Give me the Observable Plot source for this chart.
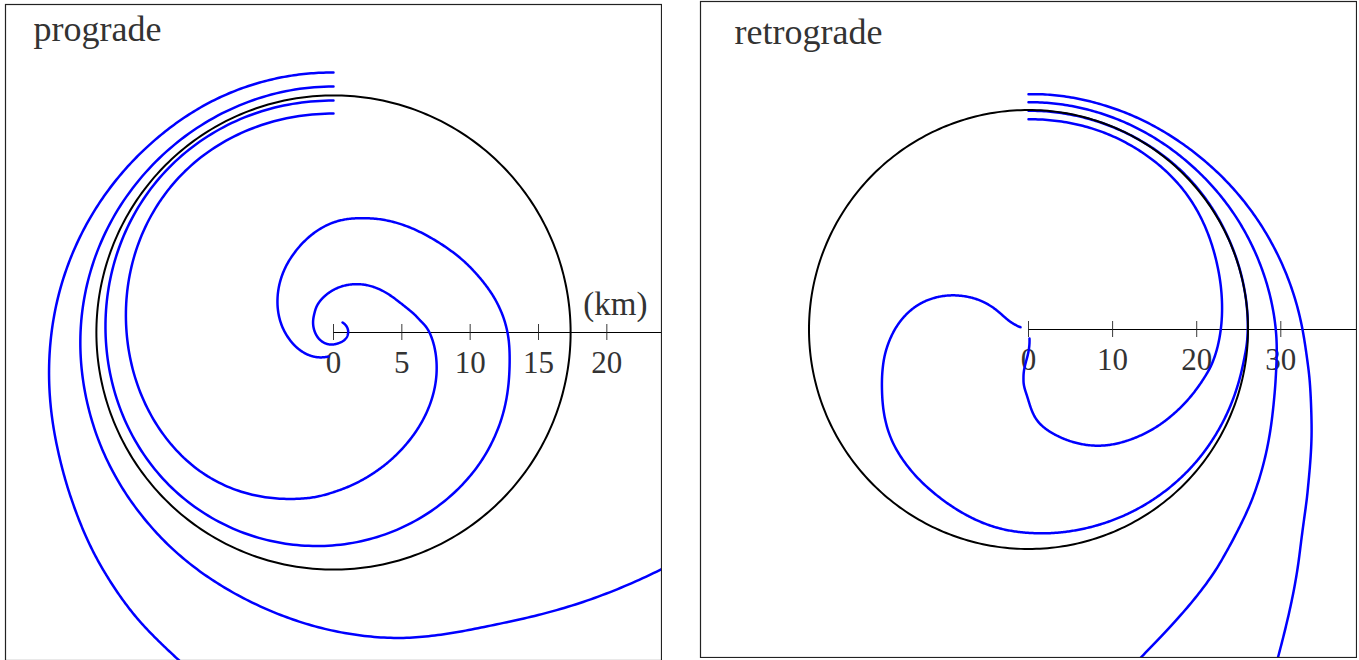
<!DOCTYPE html>
<html>
<head>
<meta charset="utf-8">
<script src="https://cdn.jsdelivr.net/npm/d3@7"></script>
<script src="https://cdn.jsdelivr.net/npm/@observablehq/plot@0.6"></script>
<style>
  html, body { margin: 0; padding: 0; background: #fff; }
  body { width: 1359px; height: 660px; overflow: hidden; position: relative; }
  .panel { position: absolute; }
</style>
</head>
<body>
<div id="left" class="panel" style="left:4px; top:3px;"></div>
<div id="right" class="panel" style="left:699px; top:0px;"></div>
<script>
// ---------- data (km, polar angle in degrees) ----------
const progradeTitle = "prograde";
const retrogradeTitle = "retrograde";
const unitLabel = "(km)";
const progradeTicks = [0, 5, 10, 15, 20];
const retrogradeTicks = [0, 10, 20, 30];
const progradeExtent = 24;
const retrogradeExtent = 39;
const progradeCircleRadius = 17.35;
const retrogradeCircleRadius = 26.1;

// prograde trajectories (counter-clockwise)
const proAngle1 = [90, 112, 135, 157, 180, 199, 212, 225, 235, 245, 260];
const proRadius1 = [19.02, 19.09, 19.24, 19.75, 20.63, 21.65, 22.68, 24.1, 25.31, 26.55, 28.9];
const proAngle2 = [90, 135, 180, 205, 230, 255, 280, 302, 324, 340];
const proRadius2 = [18.0, 18.03, 18.51, 18.92, 19.61, 20.74, 22.68, 24.87, 29.55, 35.2];
const proAngle3 = [90, 135, 180, 225, 266.5, 308.7, 329, 347.8, 360, 370, 385.4, 404.4, 432, 451.6, 479.7, 510.3, 541, 568.6, 599, 618];
const proRadius3 = [16.97, 17.04, 16.68, 16.39, 15.65, 14.63, 13.97, 13.17, 12.73, 12.18, 11.09, 9.93, 8.78, 7.97, 6.29, 4.72, 3.51, 2.75, 2.12, 1.79];
const proAngle4 = [90, 135, 180, 225, 258, 273, 290, 308, 339, 360, 370.4, 386.7, 419, 454, 480, 503, 543, 594, 650, 708, 736, 768];
const proRadius4 = [16.02, 16.02, 15.14, 14.12, 12.44, 11.49, 10.46, 9.51, 8.08, 7.02, 6.22, 5.22, 4.10, 3.00, 2.34, 1.83, 1.32, 0.99, 0.86, 1.05, 1.07, 0.99];

// retrograde trajectories (clockwise)
const retAngle1 = [90, 67, 45, 22, 0, -10, -19, -30, -40, -53, -66];
const retRadius1 = [27.98, 28.21, 28.93, 30.48, 32.58, 33.93, 35.6, 38.33, 42.02, 49.17, 59.5];
const retAngle2 = [90, 67, 45, 22, 0, -11.7, -22, -36.1, -50.3, -71.1, -92];
const retRadius2 = [27.02, 27.14, 27.5, 28.33, 29.40, 30.0, 31.07, 33.20, 35.83, 41.23, 51.2];
const retAngle3 = [90, 67, 45, 22, 0, -10, -25, -40, -57, -72, -86, -100, -116.3, -139.7, -158.5, -172.9, -185.6, -196, -205.5, -211.4, -209.7, -196];
const retRadius3 = [26.01, 26.07, 26.19, 26.13, 26.07, 25.83, 25.6, 25.36, 25.0, 24.64, 24.29, 23.81, 22.71, 21.04, 18.73, 16.95, 14.92, 12.55, 9.40, 6.24, 3.83, 0.99];
const retAngle4 = [90, 64.4, 41.2, 18.3, 0, -9.7, -16.4, -28.6, -42.1, -58.2, -73.5, -84.5, -90.8, -95.6, -95, -83.7];
const retRadius4 = [25.0, 25.06, 24.76, 23.69, 22.86, 22.26, 21.55, 20.15, 18.51, 16.25, 13.37, 10.88, 8.10, 6.10, 4.05, 1.07];

// ---------- helpers ----------
const rad = Math.PI / 180;
const SIZE = 658;
function toXY(angles, radii) {
  return angles.map((a, i) => ({x: radii[i] * Math.cos(a * rad), y: radii[i] * Math.sin(a * rad)}));
}
function circlePoints(r) {
  return d3.range(0, 361, 1).map(a => ({x: r * Math.cos(a * rad), y: r * Math.sin(a * rad)}));
}

// A spline curve that interpolates in polar coordinates around the plot centre,
// so spiral arcs between read points stay round.
function polarCurve(cx, cy) {
  return function(context) {
    let pts = [];
    return {
      areaStart() {}, areaEnd() {},
      lineStart() { pts = []; },
      point(x, y) { pts.push([+x, +y]); },
      lineEnd() {
        const P = [];
        let prev = null;
        for (const [x, y] of pts) {
          let a = Math.atan2(y - cy, x - cx);
          if (prev !== null) {
            while (a - prev > Math.PI) a -= 2 * Math.PI;
            while (a - prev < -Math.PI) a += 2 * Math.PI;
          }
          prev = a;
          P.push([a, Math.hypot(x - cx, y - cy)]);
        }
        const n = P.length;
        if (n < 2) return;
        const get = i => {
          if (i < 0) return [2 * P[0][0] - P[1][0], 2 * P[0][1] - P[1][1]];
          if (i > n - 1) return [2 * P[n - 1][0] - P[n - 2][0], 2 * P[n - 1][1] - P[n - 2][1]];
          return P[i];
        };
        let first = true;
        for (let i = 0; i < n - 1; i++) {
          const p0 = get(i - 1), p1 = get(i), p2 = get(i + 1), p3 = get(i + 2);
          const steps = 40;
          for (let s = (i === 0 ? 0 : 1); s <= steps; s++) {
            const t = s / steps, t2 = t * t, t3 = t2 * t;
            const f = k => 0.5 * ((2 * p1[k]) + (-p0[k] + p2[k]) * t + (2 * p0[k] - 5 * p1[k] + 4 * p2[k] - p3[k]) * t2 + (-p0[k] + 3 * p1[k] - 3 * p2[k] + p3[k]) * t3);
            const a = f(0), r = Math.max(0, f(1));
            const x = cx + r * Math.cos(a), y = cy + r * Math.sin(a);
            if (first) { context.moveTo(x, y); first = false; } else context.lineTo(x, y);
          }
        }
      }
    };
  };
}

function panel({title, titleDx, titleDy, ticks, extent, circleRadius, curves, unit}) {
  const spiral = polarCurve(SIZE / 2, SIZE / 2);
  const marks = [
    Plot.ruleY([{y: 0, x1: 0, x2: extent}], {y: "y", x1: "x1", x2: "x2", stroke: "#000", strokeWidth: 1}),
    Plot.ruleX(ticks, {x: d => d, y1: 0, y2: 0, insetTop: -8, insetBottom: -8, stroke: "#222", strokeWidth: 0.9}),
    Plot.text(ticks, {x: d => d, y: 0, text: d => String(d), dy: 40, lineAnchor: "bottom", textAnchor: "middle", fontSize: 31, fill: "#333"}),
    ...curves.map(c => Plot.line(c, {x: "x", y: "y", stroke: "#0000ff", strokeWidth: 2.5, curve: spiral, clip: true})),
    Plot.line(circlePoints(circleRadius), {x: "x", y: "y", stroke: "#000", strokeWidth: 2}),
    Plot.text([title], {frameAnchor: "top-left", text: d => d, textAnchor: "start", lineAnchor: "bottom", dx: titleDx, dy: titleDy, fontSize: 36, fill: "#333"}),
    Plot.frame({stroke: "#222", strokeWidth: 1.2})
  ];
  if (unit) {
    marks.push(Plot.text([unit], {x: () => unit.x, y: 0, text: () => unit.text, dy: -18, lineAnchor: "bottom", textAnchor: "middle", fontSize: 33, fill: "#333"}));
  }
  return Plot.plot({
    width: SIZE,
    height: SIZE,
    margin: 1,
    x: {domain: [-extent, extent], axis: null},
    y: {domain: [-extent, extent], axis: null},
    style: {fontFamily: "'Liberation Serif', 'Times New Roman', serif", background: "#fff", overflow: "hidden"},
    marks
  });
}

document.getElementById("left").append(panel({
  title: progradeTitle, titleDx: 28, titleDy: 36,
  ticks: progradeTicks, extent: progradeExtent, circleRadius: progradeCircleRadius,
  curves: [toXY(proAngle1, proRadius1), toXY(proAngle2, proRadius2), toXY(proAngle3, proRadius3), toXY(proAngle4, proRadius4)],
  unit: {text: unitLabel, x: 20.63}
}));

document.getElementById("right").append(panel({
  title: retrogradeTitle, titleDx: 34, titleDy: 42,
  ticks: retrogradeTicks, extent: retrogradeExtent, circleRadius: retrogradeCircleRadius,
  curves: [toXY(retAngle1, retRadius1), toXY(retAngle2, retRadius2), toXY(retAngle3, retRadius3), toXY(retAngle4, retRadius4)],
  unit: null
}));
</script>
</body>
</html>
